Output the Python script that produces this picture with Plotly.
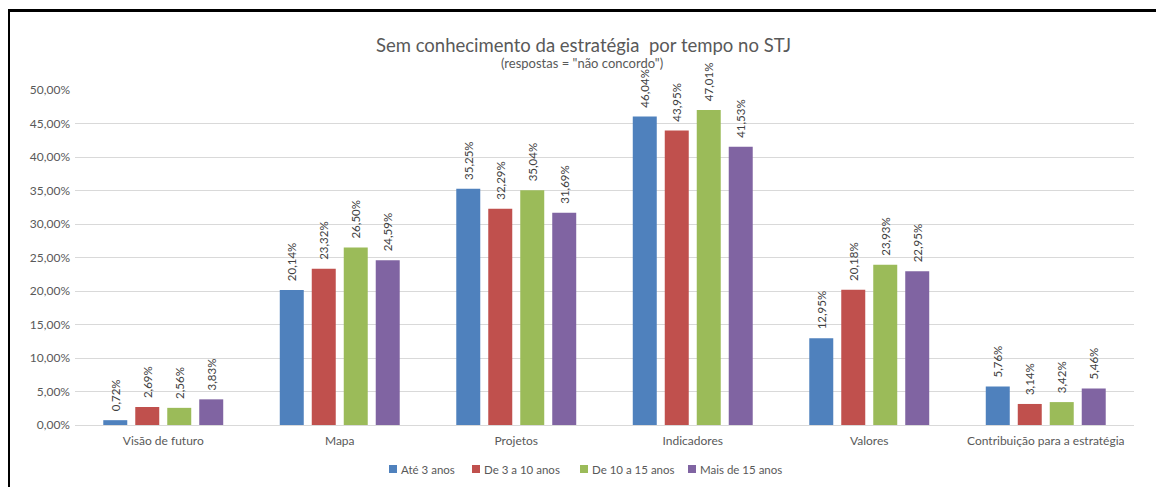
import plotly.graph_objects as go

# categories and series (fractions)
categorias = ['Visão de futuro', 'Mapa', 'Projetos', 'Indicadores', 'Valores',
              'Contribuição para a estratégia']
ate_3 = [0.0072, 0.2014, 0.3525, 0.4604, 0.1295, 0.0576]
de_3_10 = [0.0269, 0.2332, 0.3229, 0.4395, 0.2018, 0.0314]
de_10_15 = [0.0256, 0.2650, 0.3504, 0.4701, 0.2393, 0.0342]
mais_15 = [0.0383, 0.2459, 0.3169, 0.4153, 0.2295, 0.0546]

SERIES = [
    ('Até 3 anos', ate_3, '#4F81BD'),
    ('De 3 a 10 anos', de_3_10, '#C0504D'),
    ('De 10 a 15 anos', de_10_15, '#9BBB59'),
    ('Mais de 15 anos', mais_15, '#8064A2'),
]

FONT = 'Lato'
GREY = '#595959'

# page body has an 8px margin, so the figure is shifted by 8px
OFF = 8
W, H = 1164 - OFF, 487 - OFF
L, R, T, B = 67, 30, 82, 62
pw, ph = W - L - R, H - T - B


def px(x):
    # viewport x -> paper x
    return (x - OFF - L) / pw


def py(y):
    # viewport y -> paper y
    return (H - B - (y - OFF)) / ph


fig = go.Figure()
for name, vals, color in SERIES:
    fig.add_trace(go.Bar(
        x=categorias,
        y=vals,
        name=name,
        marker=dict(color=color, line=dict(width=0)),
        # leading nbsp keeps the rotated label a little above the bar
        text=["\u00a0\u00a0" + f"{v*100:.2f}%".replace('.', ',') for v in vals],
        textposition='outside',
        textangle=-90,
        constraintext='none',
        textfont=dict(size=11.5, color='#404040', family=FONT),
        cliponaxis=False,
        showlegend=False,
    ))

# outer frame (top and left edges only, as in the cropped original)
fig.add_shape(type='line', xref='paper', yref='paper',
              x0=px(8.5), x1=px(8.5), y0=py(9), y1=py(495),
              line=dict(color='black', width=3))
fig.add_shape(type='line', xref='paper', yref='paper',
              x0=px(7), x1=px(1170), y0=py(10.5), y1=py(10.5),
              line=dict(color='black', width=3))

fig.add_annotation(xref='paper', yref='paper', x=px(583), y=py(45),
                   xanchor='center', yanchor='middle',
                   text='Sem conhecimento da estratégia  por tempo no STJ',
                   showarrow=False, font=dict(size=18.5, color=GREY, family=FONT))
fig.add_annotation(xref='paper', yref='paper', x=px(582), y=py(63),
                   xanchor='center', yanchor='middle',
                   text='(respostas = "não concordo")',
                   showarrow=False, font=dict(size=13, color=GREY, family=FONT))

# legend drawn by hand to get the compact Excel look
legend_x = [389, 472, 580, 688]
for (name, _, color), lx in zip(SERIES, legend_x):
    fig.add_shape(type='rect', xref='paper', yref='paper',
                  x0=px(lx), x1=px(lx + 8), y0=py(465), y1=py(473),
                  fillcolor=color, line=dict(width=0))
    fig.add_annotation(xref='paper', yref='paper', x=px(lx + 10), y=py(469),
                       xanchor='left', yanchor='middle', text=name,
                       showarrow=False, font=dict(size=11.5, color=GREY, family=FONT))

fig.update_layout(
    width=W, height=H,
    margin=dict(l=L, r=R, t=T, b=B, autoexpand=False),
    barmode='group',
    bargap=0.275,
    bargroupgap=0.25,
    separators=',.',
    plot_bgcolor='white',
    paper_bgcolor='white',
    font=dict(family=FONT, size=12, color=GREY),
    xaxis=dict(showgrid=False, showline=True, linecolor='#D9D9D9',
               ticks='', ticklabelstandoff=5,
               tickfont=dict(size=12, color=GREY)),
    yaxis=dict(range=[0, 0.5], dtick=0.05, tickformat='.2%',
               showgrid=True, gridcolor='#D9D9D9', zeroline=False,
               ticks='', ticklabelstandoff=4,
               tickfont=dict(size=12, color=GREY)),
    showlegend=False,
)

fig.write_html('out.html')
